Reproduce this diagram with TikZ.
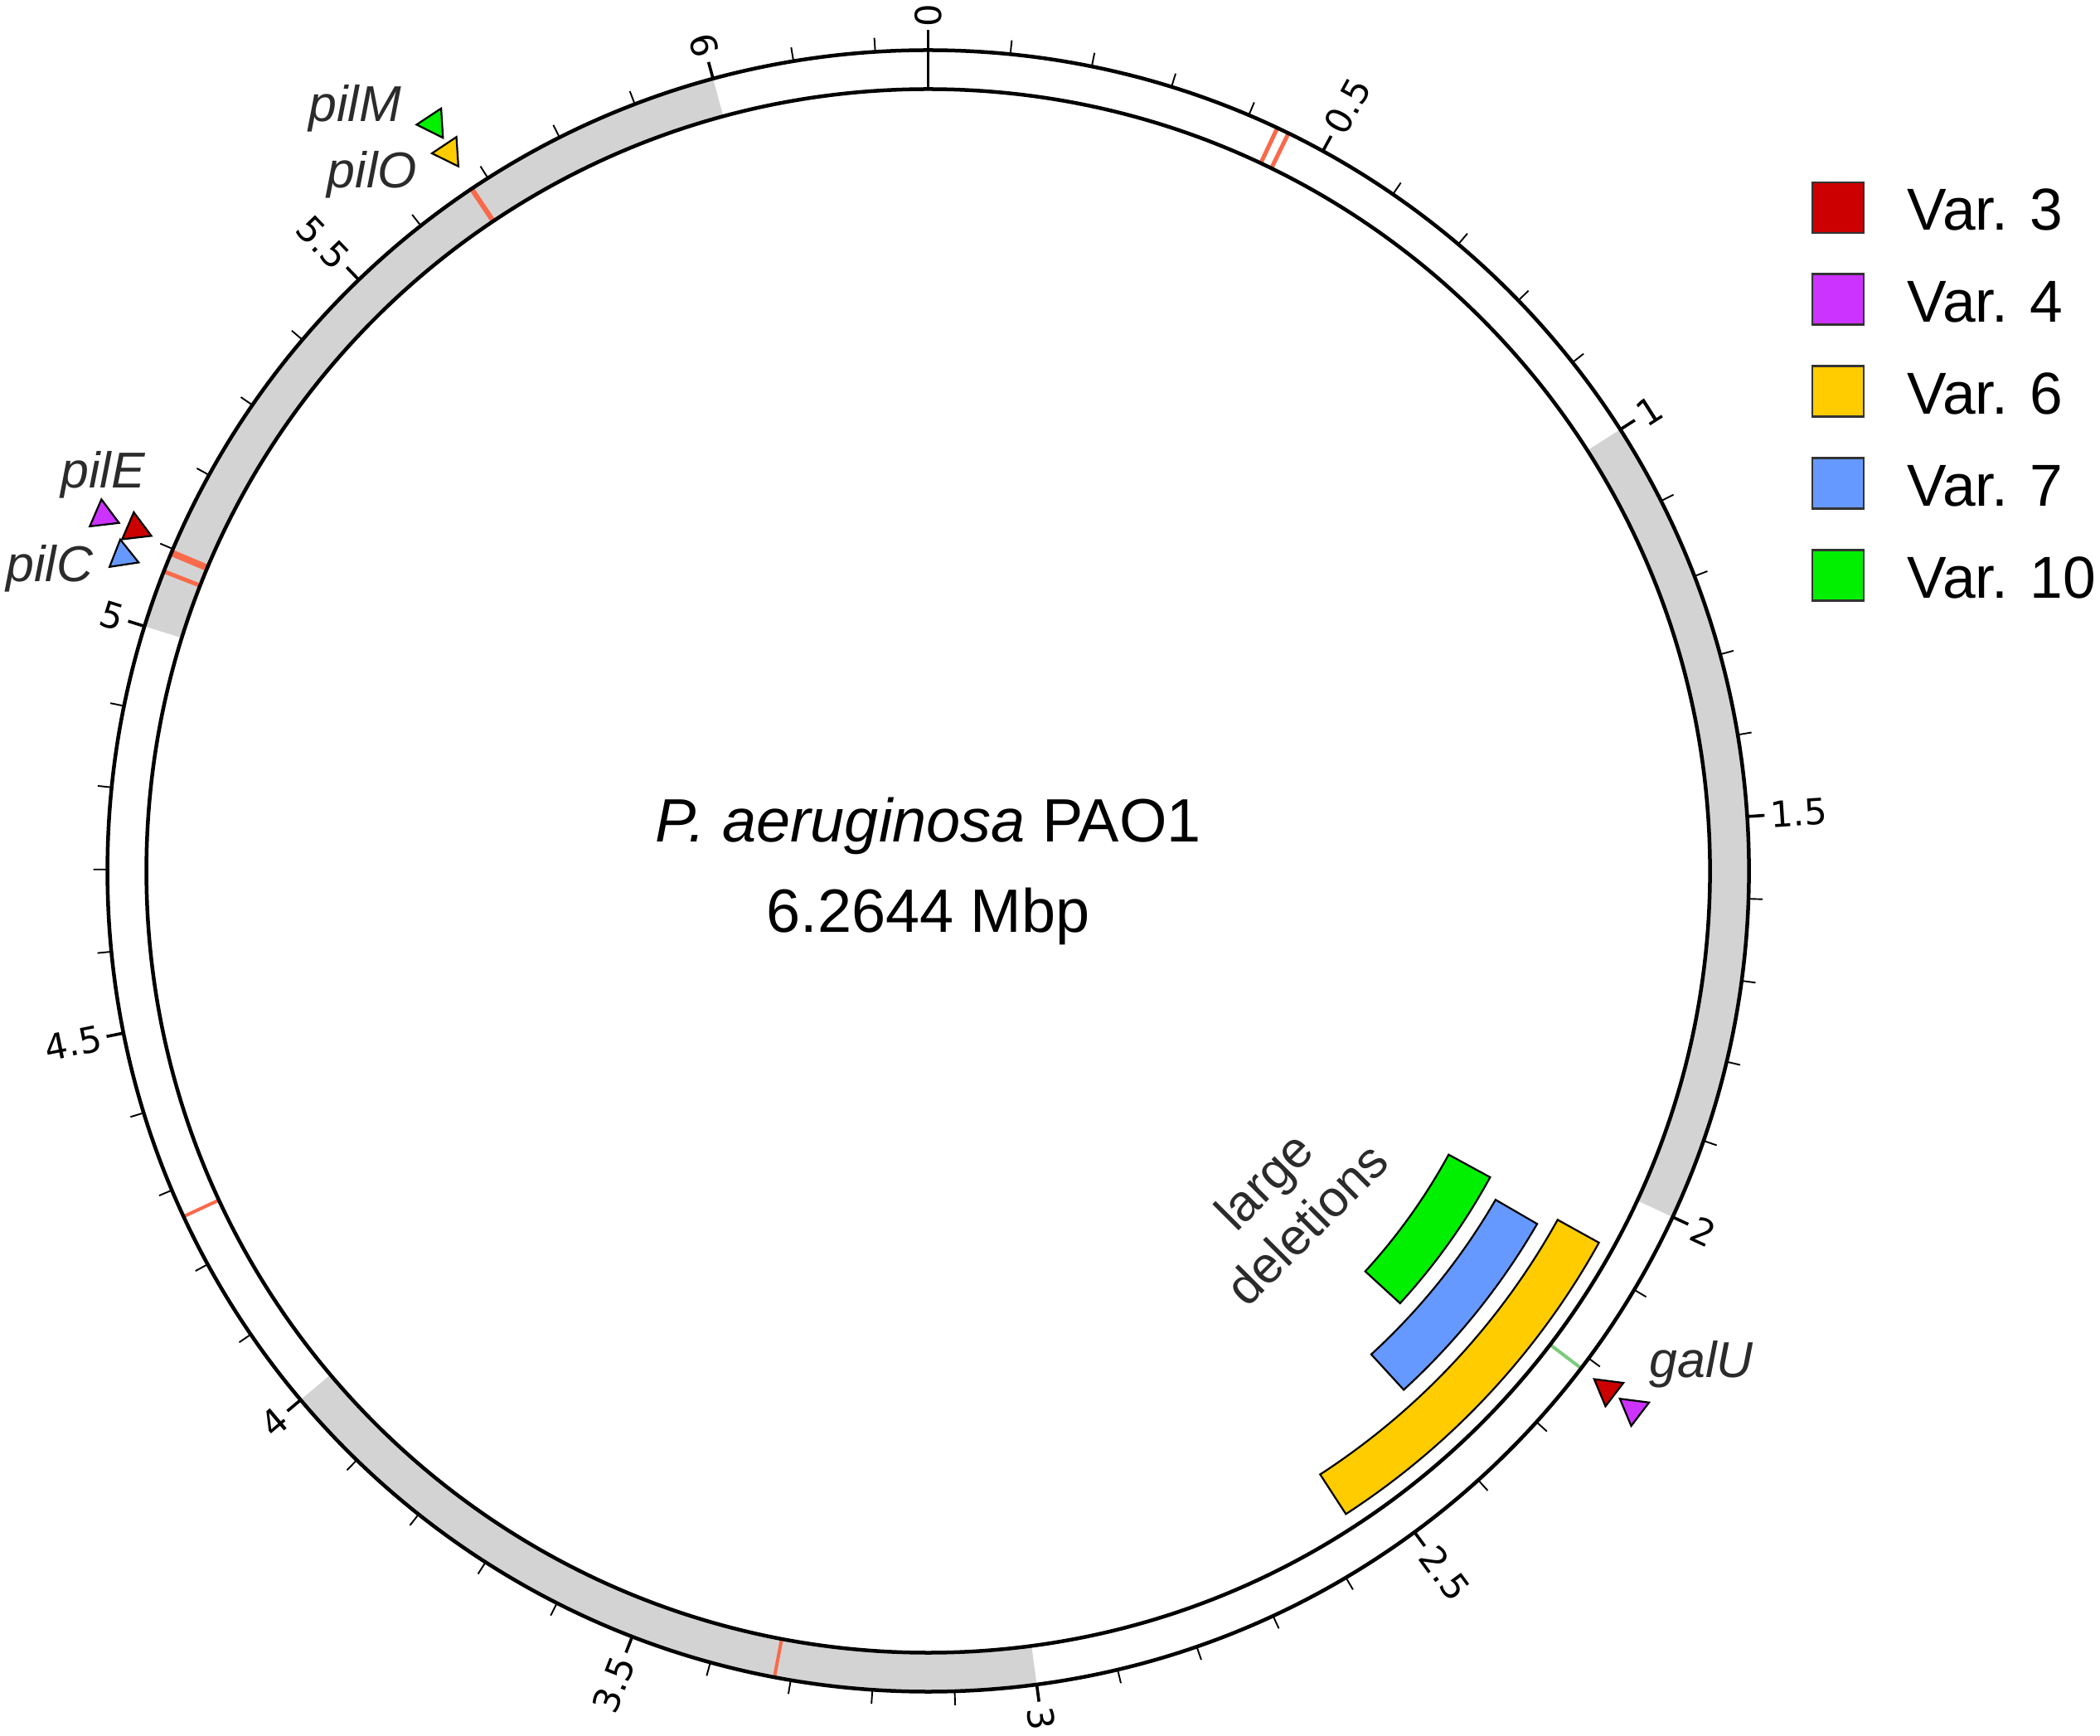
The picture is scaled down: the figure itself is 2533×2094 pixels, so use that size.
\documentclass[tikz,border=0pt]{standalone}
\usepackage{fontspec}
\setmainfont{Liberation Sans}
\newfontfamily\dejavu{DejaVu Sans}
\definecolor{bandgrey}{RGB}{211,211,211}
\definecolor{mkorange}{RGB}{249,106,75}
\definecolor{mkgreen}{RGB}{124,203,124}
\definecolor{vred}{RGB}{204,0,0}
\definecolor{vpurple}{RGB}{204,51,255}
\definecolor{vyellow}{RGB}{255,204,0}
\definecolor{vblue}{RGB}{102,153,255}
\definecolor{vgreen}{RGB}{0,240,0}
\definecolor{genetext}{RGB}{43,43,43}
\def\Rin{943}
\def\Rout{990}
\newcommand\bandseg[2]{%
  \pgfmathsetmacro\ba{90-57.46759*#1}\pgfmathsetmacro\bb{90-57.46759*#2}%
  \fill[bandgrey] (\ba:\Rout) arc[start angle=\ba, end angle=\bb, radius=\Rout]
    -- (\bb:\Rin) arc[start angle=\bb, end angle=\ba, radius=\Rin] -- cycle;}
\newcommand\snvline[3]{\draw[draw=#3, line width=#2] (#1:\Rin) -- (#1:\Rout);}
\newcommand\tri[3]{%
  \pgfmathsetmacro\ta{#1+180}\pgfmathsetmacro\tb{#1+300}\pgfmathsetmacro\tc{#1+60}%
  \filldraw[tristyle, fill=#3] ([shift={(#1:#2)}]\ta:20.5) -- ([shift={(#1:#2)}]\tb:20.5)
    -- ([shift={(#1:#2)}]\tc:20.5) -- cycle;}
\newcommand\delbar[5]{%
  \filldraw[barstyle, fill=#5] (#1:#4) arc[start angle=#1, end angle=#2, radius=#4]
    -- (#2:#3) arc[start angle=#2, end angle=#1, radius=#3] -- cycle;}
\begin{document}
\begin{tikzpicture}[x=0.01cm,y=0.01cm,
  ring/.style={line width=0.045cm},
  majortick/.style={line width=0.036cm},
  minortick/.style={line width=0.019cm},
  tristyle/.style={draw=black, line width=0.022cm, line join=miter},
  barstyle/.style={draw=black, line width=0.022cm},
  ticklab/.style={font=\dejavu\fontsize{12.3}{14}\selectfont, inner sep=0pt},
  genelab/.style={font=\fontsize{17.3}{20}\selectfont\itshape, text=genetext, inner sep=0pt, anchor=base},
  legbox/.style={draw=black!80, line width=0.025cm},
  legtext/.style={font=\fontsize{20.3}{24}\selectfont, inner sep=0pt, anchor=base west},
  centertext/.style={font=\fontsize{21}{25}\selectfont, inner sep=0pt, anchor=base}
]
\useasboundingbox (-1119.6,-1043.5) rectangle (1413.4,1050.5);
\fill[white] (-1119.6,-1043.5) rectangle (1413.4,1050.5);

% grey bands
\bandseg{1}{2}
\bandseg{3}{4}
\bandseg{5}{6}

% variant marks in the ring
\snvline{64.83}{0.05cm}{mkorange}
\snvline{63.97}{0.05cm}{mkorange}
\snvline{123.8}{0.06cm}{mkorange}
\snvline{157.2}{0.08cm}{mkorange}
\snvline{158.6}{0.05cm}{mkorange}
\snvline{-155.1}{0.04cm}{mkorange}
\snvline{-100.8}{0.04cm}{mkorange}
\snvline{-37.3}{0.04cm}{mkgreen}

% ring
\draw[ring] (0,0) circle[radius=\Rout];
\draw[ring] (0,0) circle[radius=\Rin];

% ticks
\draw[majortick] (90:\Rin) -- (90:1014);
\foreach \i in {1,...,62}{
  \pgfmathsetmacro\ang{90-5.746759*\i}
  \pgfmathtruncatemacro\rr{mod(\i,5)}
  \ifnum\rr=0
    \draw[majortick] (\ang:\Rout) -- (\ang:1011);
  \else
    \draw[minortick] (\ang:\Rout) -- (\ang:1007);
  \fi
}
\foreach \p/\lab [count=\k] in {0/0,0.5/0.5,1/1,1.5/1.5,2/2,2.5/2.5,3/3,3.5/3.5,4/4,4.5/4.5,5/5,5.5/5.5,6/6}{
  \pgfmathsetmacro\ang{90-57.46759*\p}
  \pgfmathsetmacro\cw{57.46759*\p}
  \ifdim\cw pt<180pt
    \node[ticklab, anchor=west, rotate=\ang] (tl\k) at (\ang:1017) {\lab};
  \else
    \pgfmathsetmacro\angb{\ang+180}
    \node[ticklab, anchor=east, rotate=\angb] (tl\k) at (\ang:1017) {\lab};
  \fi
}

% large deletions
\delbar{-29}{-57}{868}{925}{vyellow}
\delbar{-30.1}{-47.5}{791}{849}{vblue}
\delbar{-28.6}{-42.5}{715}{772}{vgreen}
\node[rotate=45, align=center, font=\fontsize{17.5}{21}\selectfont, text=genetext, inner sep=0pt] (deltext) at (430.4,-399.5) {large\\deletions};

% markers
\tri{123.5}{1081}{vgreen}
\tri{123.7}{1042}{vyellow}
\tri{156.73}{1083}{vpurple}
\tri{156.67}{1041}{vred}
\tri{158.66}{1043}{vblue}
\tri{-37.35}{1031}{vred}
\tri{-37.35}{1070}{vpurple}

% gene labels
\node[genelab] (pilM) at (-691.6,903.8) {pilM};
\node[genelab] (pilO) at (-670.6,823.8) {pilO};
\node[genelab] (pilE) at (-995.6,462.2) {pilE};
\node[genelab] (pilC) at (-1059.6,348.8) {pilC};
\node[genelab] (galU) at (932.4,-611.2) {galU};

% center text
\node[centertext] (title) at (0,34.5) {\textit{P. aeruginosa} PAO1};
\node[centertext] (size) at (0,-74.5) {6.2644 Mbp};

% legend
\foreach \c/\lab/\yc [count=\k] in {vred/Var. 3/800.2, vpurple/Var. 4/689.6, vyellow/Var. 6/578.6, vblue/Var. 7/467.7, vgreen/Var. 10/356.7}{
  \filldraw[legbox, fill=\c] (1066.4,\yc-30.5) rectangle (1128.4,\yc+30.5);
  \node[legtext] (leg\k) at (1180.4,\yc-27.5) {\lab};
}
\end{tikzpicture}
\end{document}
